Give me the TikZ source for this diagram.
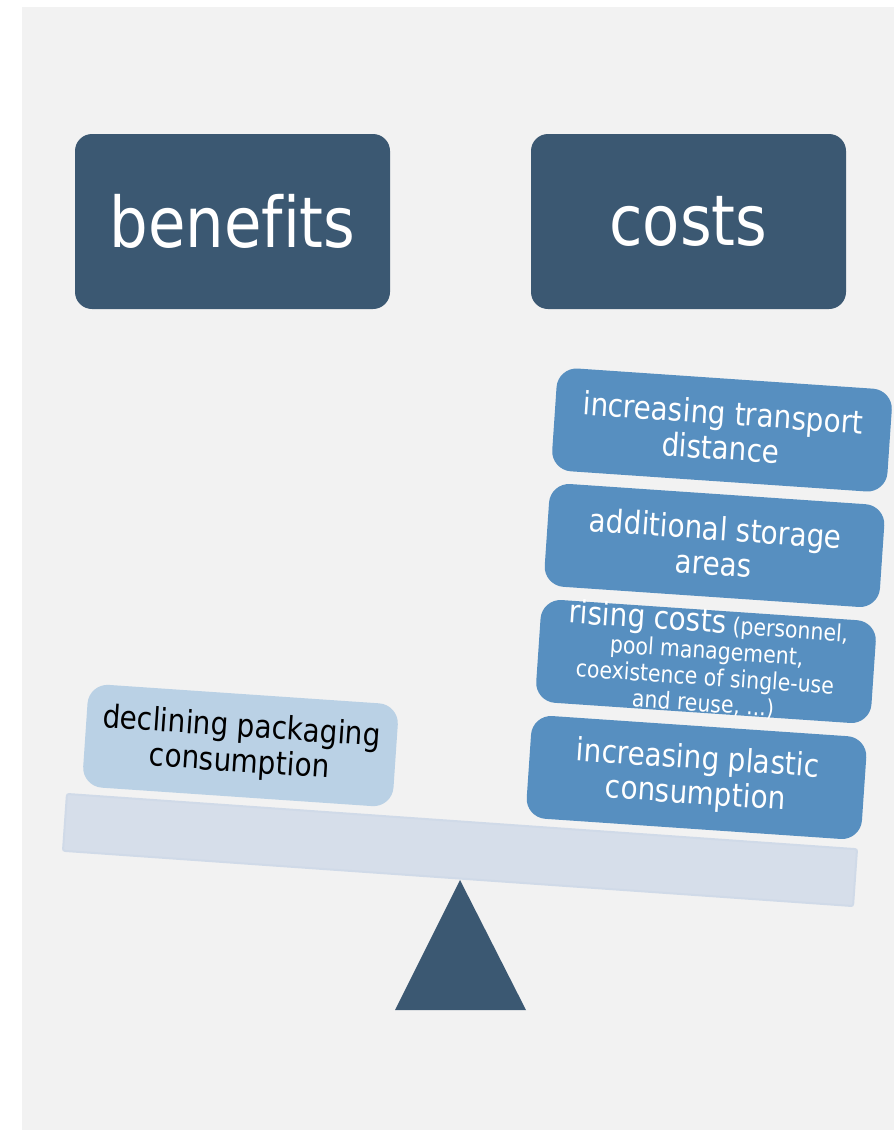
\documentclass[tikz,border=0pt]{standalone}
\usepackage{fontspec}
\setmainfont{DejaVu Sans}[FakeStretch=0.87, Ligatures=NoCommon]
\definecolor{slateblue}{HTML}{3B5872}
\definecolor{costblue}{HTML}{578FC0}
\definecolor{gainblue}{HTML}{BAD1E5}
\definecolor{beamfill}{HTML}{D6DEEA}
\definecolor{beamedge}{HTML}{D0DAE8}
\definecolor{backgray}{HTML}{F2F2F2}

\begin{document}
\begin{tikzpicture}[x=1pt,y=-1pt,
  header/.style={fill=slateblue, rounded corners=17pt, minimum width=315pt,
    minimum height=175pt, inner sep=0pt, text=white,
    font=\fontsize{70}{74}\selectfont},
  costbox/.style={fill=costblue, rounded corners=20pt, minimum width=336pt,
    minimum height=103pt, inner sep=0pt, rotate=\tilt},
  costtext/.style={text=white, align=center, rotate=\tilt,
    font=\fontsize{32}{35}\selectfont},
  gainbox/.style={fill=gainblue, rounded corners=20pt, minimum width=311pt,
    minimum height=103pt, inner sep=0pt, rotate=\tilt, text=black,
    align=center, font=\fontsize{32}{35}\selectfont}]
\newcommand{\tilt}{-3.9}

\useasboundingbox (0,0) rectangle (894,1130);
\fill[backgray] (22,7) rectangle (894,1130);

\node[header] (benefits) at (232.5,221.5) {benefits};
\node[header] (costs) at (688.5,221.5) {costs};

\node[costbox] (transport) at (722,430) {};
\node[costtext] at (transport.center) {increasing transport\\distance};
\node[costbox] (storage) at (714.5,545.5) {};
\node[costtext] at (storage.center) {additional storage\\areas};
\node[costbox] (rising) at (706,661.5) {};
\node[costtext, font=\fontsize{23.5}{26.5}\selectfont] at (rising.center)
  {{\fontsize{32}{26.5}\selectfont rising costs} (personnel,\\pool management,\\coexistence of single-use\\and reuse, ...)};
\node[costbox] (plastic) at (696.5,777.5) {};
\node[costtext] at (plastic.center) {increasing plastic\\consumption};

\node[gainbox] (declining) at (240.5,745.5) {declining packaging\\consumption};

\node[fill=beamfill, draw=beamedge, line width=2pt, rounded corners=2pt,
  minimum width=792pt, minimum height=57pt, rotate=-4] (beam) at (460,850) {};

\coordinate (pivot) at (460,880);
\fill[slateblue] (pivot) -- (526,1010) -- (395,1010) -- cycle;
\end{tikzpicture}
\end{document}
